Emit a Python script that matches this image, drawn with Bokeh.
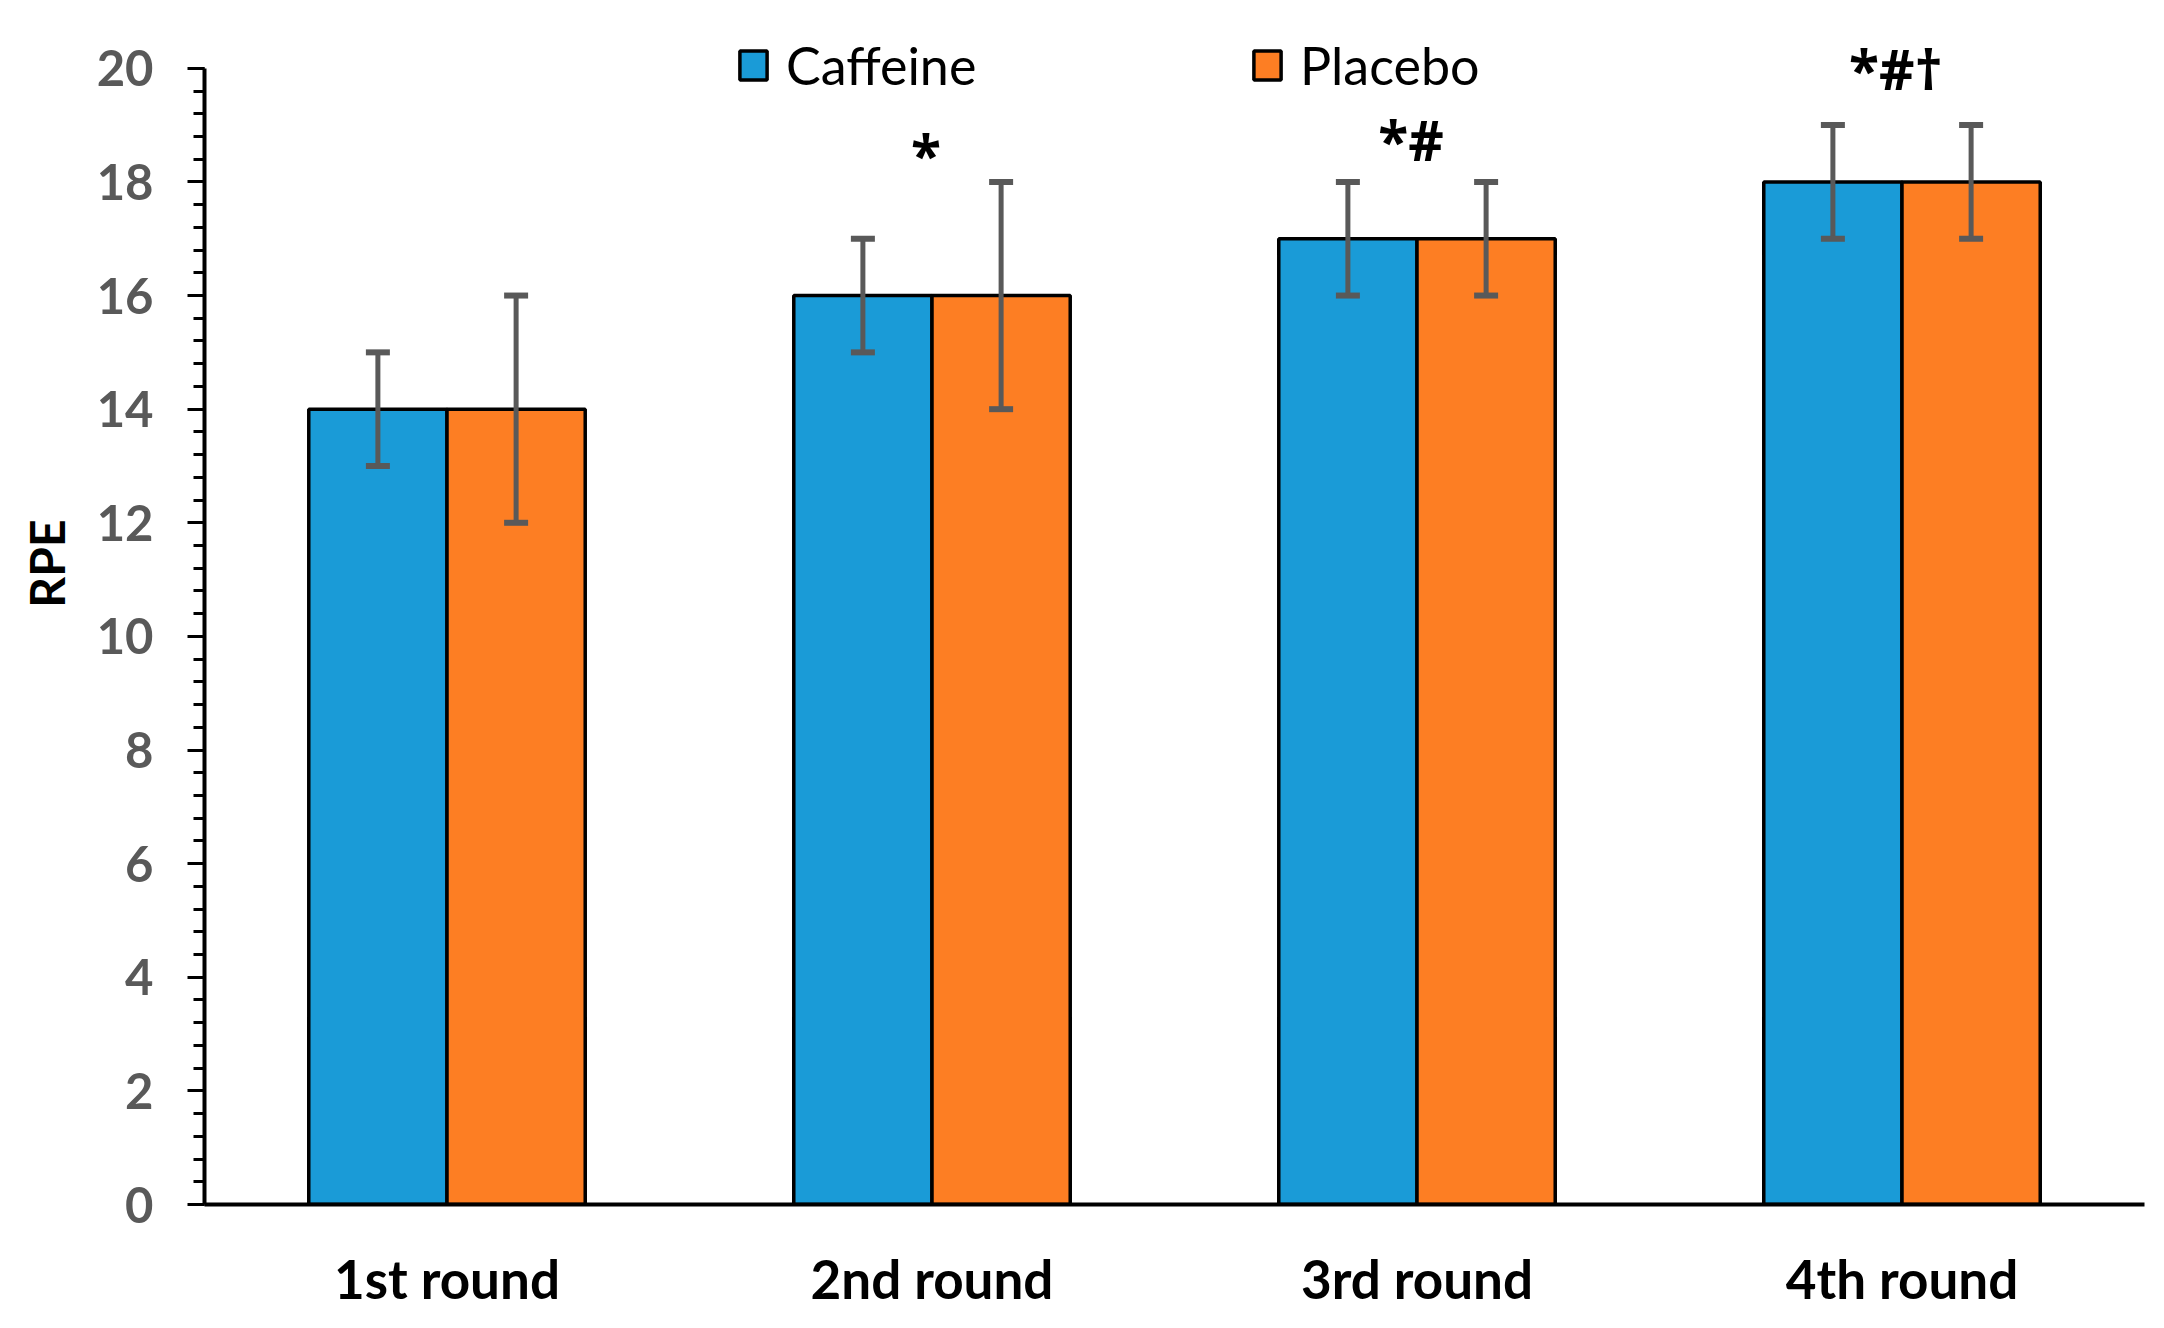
from bokeh.plotting import figure
from bokeh.models import (FactorRange, Range1d, SingleIntervalTicker, Whisker, TeeHead,
                          ColumnDataSource, Legend, LegendItem, Title)
from bokeh.transform import dodge
from bokeh.core.properties import value
from bokeh.embed import file_html
from bokeh.resources import INLINE

# ---- data ----
rounds = ["1st round", "2nd round", "3rd round", "4th round"]
caffeine_mean = [14, 16, 17, 18]
caffeine_sd = [1, 1, 1, 1]
placebo_mean = [14, 16, 17, 18]
placebo_sd = [2, 2, 1, 1]
annot_rounds = ["2nd round", "3rd round", "4th round"]
annot_text = ["*", "*#", "*#†"]
annot_y = [18.5, 18.75, 20.0]

BLUE = "#1a9bd7"
ORANGE = "#fd7e23"
GREY = "#595959"
FONT = "Lato"

src = ColumnDataSource(dict(
    round=rounds,
    caf=caffeine_mean,
    caf_lo=[m - s for m, s in zip(caffeine_mean, caffeine_sd)],
    caf_hi=[m + s for m, s in zip(caffeine_mean, caffeine_sd)],
    pla=placebo_mean,
    pla_lo=[m - s for m, s in zip(placebo_mean, placebo_sd)],
    pla_hi=[m + s for m, s in zip(placebo_mean, placebo_sd)],
))
annot_src = ColumnDataSource(dict(round=annot_rounds, text=annot_text, y=annot_y))

p = figure(x_range=FactorRange(*rounds), y_range=Range1d(0, 21),
           width=2148, height=1312, output_backend="svg", toolbar_location=None,
           min_border_left=204, min_border_right=4, min_border_top=11, min_border_bottom=106)
p.outline_line_color = None
p.xgrid.visible = False
p.ygrid.visible = False

BW = 0.285
cbar = p.vbar(x=dodge("round", -BW / 2, range=p.x_range), top="caf", width=BW, source=src,
              fill_color=BLUE, line_color="black", line_width=3.5)
pbar = p.vbar(x=dodge("round", BW / 2, range=p.x_range), top="pla", width=BW, source=src,
              fill_color=ORANGE, line_color="black", line_width=3.5)

for off, lo, hi in [(-BW / 2, "caf_lo", "caf_hi"), (BW / 2, "pla_lo", "pla_hi")]:
    w = Whisker(source=src, base=dodge("round", off, range=p.x_range), lower=lo, upper=hi,
                line_color=GREY, line_width=5, level="overlay",
                upper_head=TeeHead(size=24, line_color=GREY, line_width=6),
                lower_head=TeeHead(size=24, line_color=GREY, line_width=6))
    p.add_layout(w)

p.text(x="round", y="y", text="text", source=annot_src, text_font=value("Open Sans"),
       text_font_style="bold", text_font_size="55px", text_align="center",
       text_baseline="alphabetic", text_color="black", x_offset=-6)

# legends
for item_label, rend, loc in [("Caffeine", cbar, (532, 1108)), ("Placebo", pbar, (1046, 1108))]:
    leg = Legend(items=[LegendItem(label=item_label, renderers=[rend])], location=loc,
                 glyph_width=34, glyph_height=36, label_standoff=16, padding=0, margin=0,
                 border_line_alpha=0, background_fill_alpha=0,
                 label_text_font=FONT, label_text_font_size="52px", label_text_color="black")
    p.add_layout(leg, "center")

# y axis
ya = p.yaxis[0]
ya.ticker = SingleIntervalTicker(interval=2, num_minor_ticks=5)
ya.bounds = (0, 20)
ya.axis_line_width = 4
ya.axis_line_color = "black"
ya.major_tick_in = 0
ya.major_tick_out = 17
ya.minor_tick_in = 0
ya.minor_tick_out = 11
ya.major_tick_line_width = 3
ya.minor_tick_line_width = 3
ya.major_tick_line_color = "black"
ya.minor_tick_line_color = "black"
ya.major_label_text_font = FONT
ya.major_label_text_font_style = "bold"
ya.major_label_text_font_size = "49px"
ya.major_label_text_color = GREY
ya.major_label_standoff = 34

# y-axis title placed as a side title so it can sit above the frame centre
p.add_layout(Title(text="RPE", align="right", offset=508, vertical_align="top", standoff=33,
                   text_font=FONT, text_font_style="bold", text_font_size="48px",
                   text_color="black"), "left")

# x axis
xa = p.xaxis[0]
xa.axis_line_width = 4
xa.axis_line_color = "black"
xa.major_tick_line_color = None
xa.minor_tick_line_color = None
xa.major_tick_out = 0
xa.major_label_text_font = FONT
xa.major_label_text_font_style = "bold"
xa.major_label_text_font_size = "53px"
xa.major_label_text_color = "black"
xa.major_label_standoff = 42

open("out.html", "w").write(file_html(p, INLINE))
